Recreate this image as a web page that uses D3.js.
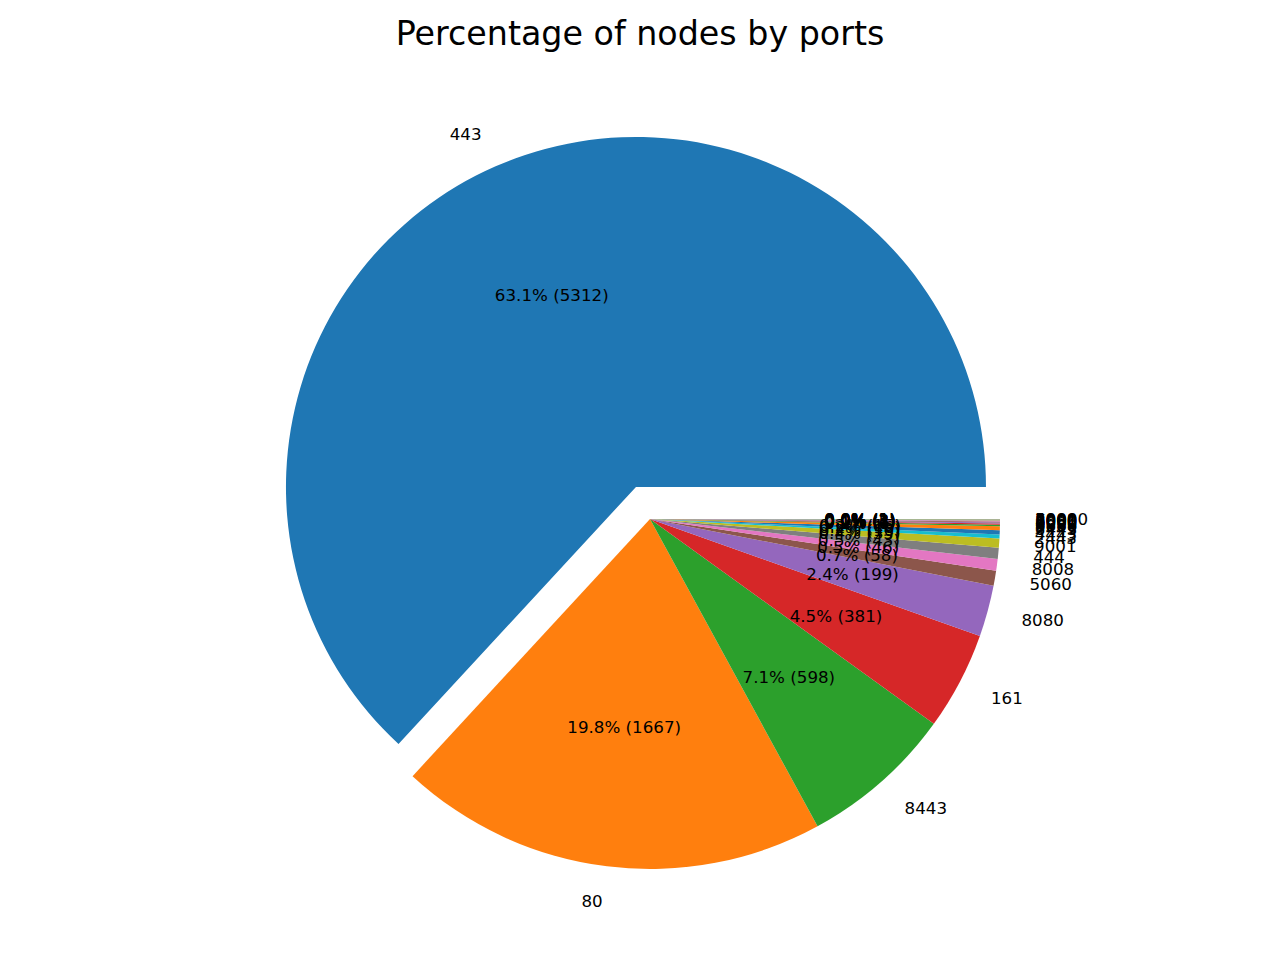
<!DOCTYPE html>
<html>
<head>
<meta charset="utf-8">
<script src="https://cdn.jsdelivr.net/npm/d3@7"></script>
<style>
  body { margin: 0; background: #fff; }
  text { font-family: "DejaVu Sans", sans-serif; }
</style>
</head>
<body>
<script>
const width = 1280;
const height = 960;

// ports and node counts (tiny slices estimated)
const ports = ["443", "80", "8443", "161", "8080", "5060", "8008", "444", "9001",
  "2443", "4443", "6443", "9000", "8888", "8000", "9090", "8081", "3000", "8001",
  "7000", "5000", "10000"];
const counts = [5312, 1667, 598, 381, 199, 58, 46, 43, 35,
  16, 16, 15, 6, 5, 4, 3, 3, 2, 2,
  1, 1, 1];
const explode = [0.1];

const colors = ["#1f77b4", "#ff7f0e", "#2ca02c", "#d62728", "#9467bd",
  "#8c564b", "#e377c2", "#7f7f7f", "#bcbd22", "#17becf"];

const total = d3.sum(counts);
const data = ports.map((p, i) => ({port: p, count: counts[i], explode: explode[i] || 0}));

const cx = 650, cy = 519, r = 350;

const svg = d3.select("body").append("svg")
    .attr("width", width)
    .attr("height", height);

svg.append("text")
    .attr("x", 640)
    .attr("y", 45)
    .attr("text-anchor", "middle")
    .attr("font-size", "33.3px")
    .text("Percentage of nodes by ports");

// matplotlib starts at 3 o'clock and goes counterclockwise
const pie = d3.pie()
    .sort(null)
    .value(d => d.count)
    .startAngle(Math.PI / 2)
    .endAngle(Math.PI / 2 - 2 * Math.PI);

const arc = d3.arc().innerRadius(0).outerRadius(r);
const arcs = pie(data);

const g = svg.append("g").attr("transform", `translate(${cx},${cy})`);

function mid(d) { return (d.startAngle + d.endAngle) / 2; }
function offset(d) {
  const a = mid(d), o = d.data.explode * r;
  return [Math.sin(a) * o, -Math.cos(a) * o];
}

g.selectAll("path")
    .data(arcs)
    .join("path")
    .attr("d", arc)
    .attr("fill", (d, i) => colors[i % colors.length])
    .attr("transform", d => `translate(${offset(d)})`);

// port labels at 1.1 r
g.selectAll("text.label")
    .data(arcs)
    .join("text")
    .attr("class", "label")
    .attr("font-size", "16.7px")
    .attr("dominant-baseline", "central")
    .each(function(d) {
      const a = mid(d), [ox, oy] = offset(d);
      const x = ox + Math.sin(a) * r * 1.1;
      const y = oy - Math.cos(a) * r * 1.1;
      d3.select(this)
        .attr("x", x)
        .attr("y", y)
        .attr("text-anchor", x > 0 ? "start" : "end");
    })
    .text(d => d.data.port);

// percentages at 0.6 r
g.selectAll("text.pct")
    .data(arcs)
    .join("text")
    .attr("class", "pct")
    .attr("font-size", "16.7px")
    .attr("text-anchor", "middle")
    .attr("dominant-baseline", "central")
    .attr("x", d => offset(d)[0] + Math.sin(mid(d)) * r * 0.6)
    .attr("y", d => offset(d)[1] - Math.cos(mid(d)) * r * 0.6)
    .text(d => `${(d.data.count / total * 100).toFixed(1)}% (${d.data.count})`);
</script>
</body>
</html>
